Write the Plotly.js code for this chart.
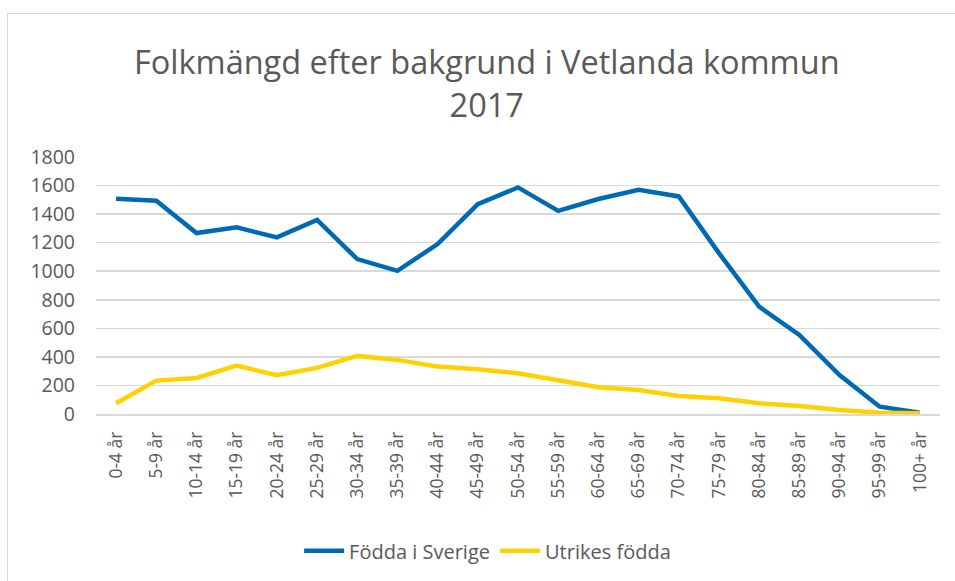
<!DOCTYPE html>
<html>
<head>
<meta charset="utf-8">
<script src="https://cdn.plot.ly/plotly-3.0.1.min.js"></script>
<style>
html,body{margin:0;padding:0;background:#fff;}
#frame{position:absolute;left:7px;top:13px;width:960px;height:600px;border-left:1.5px solid #d9d9d9;border-top:1.5px solid #d9d9d9;}
#chart{position:absolute;left:0;top:0;width:955px;height:581px;}
</style>
</head>
<body>
<div id="frame"></div>
<div id="chart"></div>
<script>
const ageGroups = ["0-4 år","5-9 år","10-14 år","15-19 år","20-24 år","25-29 år","30-34 år","35-39 år","40-44 år","45-49 år","50-54 år","55-59 år","60-64 år","65-69 år","70-74 år","75-79 år","80-84 år","85-89 år","90-94 år","95-99 år","100+ år"];
const foddaISverige = [1508,1494,1267,1307,1237,1360,1085,1003,1190,1470,1587,1423,1506,1571,1524,1127,752,554,273,51,9];
const utrikesFodda = [75,234,252,339,271,323,407,379,332,313,285,238,187,168,126,110,75,56,28,9,5];
const yTicks = [0,200,400,600,800,1000,1200,1400,1600,1800];

const font = "Open Sans, Liberation Sans, sans-serif";
const grey = "#595959";

const traces = [
  {x: ageGroups, y: foddaISverige, name: "Födda i Sverige", type: "scatter", mode: "lines",
   line: {color: "#0069B4", width: 4.5}},
  {x: ageGroups, y: utrikesFodda, name: "Utrikes födda", type: "scatter", mode: "lines",
   line: {color: "#FFD100", width: 4.5}}
];

const layout = {
  width: 955, height: 581,
  paper_bgcolor: "rgba(0,0,0,0)", plot_bgcolor: "rgba(0,0,0,0)",
  margin: {l: 96, r: 15, t: 157, b: 167, autoexpand: false},
  title: {text: "Folkmängd efter bakgrund i Vetlanda kommun<br>2017", font: {family: font, size: 32.5, color: grey},
          x: 0.463, xref: "paper", y: 0.872, yref: "container", yanchor: "top"},
  font: {family: font, color: grey},
  xaxis: {type: "category", range: [-0.5, 20.5], tickangle: -90, tickfont: {size: 17.5, color: grey}, automargin: false,
          showgrid: false, zeroline: false, showline: true, linecolor: "#d9d9d9", linewidth: 1.5, ticks: "", ticklabelstandoff: 9, fixedrange: true},
  yaxis: {range: [0, 1800], tickvals: yTicks, ticktext: yTicks.map(String), tickfont: {size: 19.5, color: grey}, automargin: false,
          showgrid: true, gridcolor: "#d9d9d9", gridwidth: 1.5, zeroline: false, ticks: "", ticklabelstandoff: 20},
  showlegend: true,
  legend: {orientation: "h", x: 0.464, xanchor: "center", yref: "container", y: 0.052, yanchor: "middle",
           font: {size: 20, color: grey}, itemwidth: 40, tracegroupgap: 0}
};

Plotly.newPlot("chart", traces, layout, {displayModeBar: false, staticPlot: true});
</script>
</body>
</html>
